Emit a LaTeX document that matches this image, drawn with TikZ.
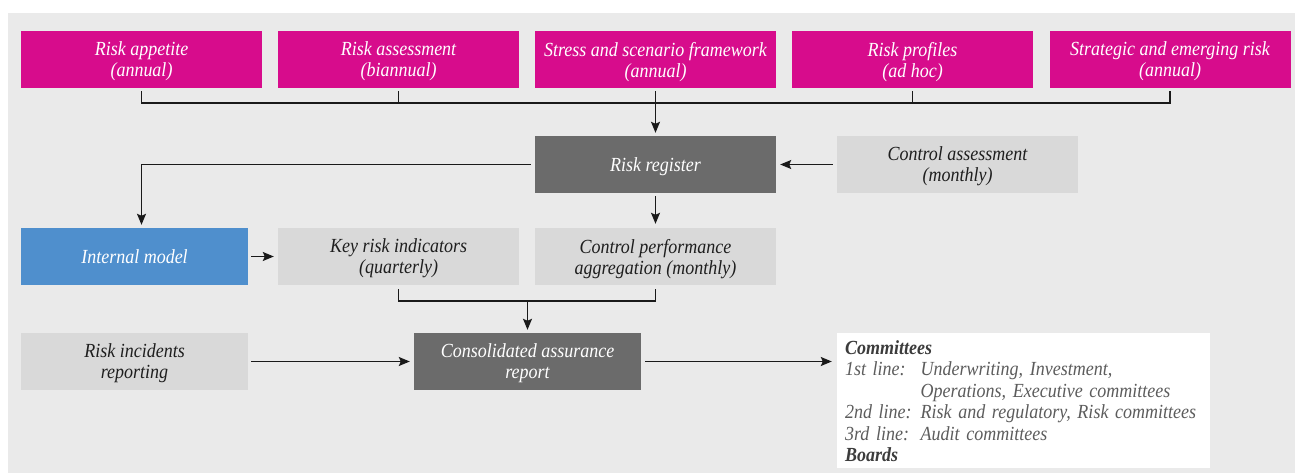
\documentclass[tikz,border=0pt]{standalone}
\usepackage{fontspec}
\setmainfont{Liberation Serif}[FakeStretch=0.9]
\usetikzlibrary{arrows.meta}
\definecolor{panel}{HTML}{EAEAEA}
\definecolor{riskmagenta}{HTML}{D70C8C}
\definecolor{hubgrey}{HTML}{6B6B6B}
\definecolor{inputgrey}{HTML}{D9D9D9}
\definecolor{modelblue}{HTML}{4F8FCD}
\definecolor{textdark}{HTML}{1E1E1E}
\definecolor{linedark}{HTML}{1A1A1A}
\definecolor{comtext}{HTML}{5C5C5C}
\definecolor{comhead}{HTML}{3C3C3C}

\begin{document}
\begin{tikzpicture}
  [x=1pt, y=-1pt,
   every node/.style={inner sep=0pt, text depth=0pt, font=\fontsize{20}{21}\selectfont\itshape, align=center},
   box/.style={rectangle, minimum width=241pt, minimum height=57pt},
   source/.style={box, fill=riskmagenta, text=white},
   hub/.style={box, fill=hubgrey, text=white},
   input/.style={box, fill=inputgrey, text=textdark},
   link/.style={draw=linedark, line width=1.4pt},
   flow/.style={link, -{Stealth[length=11pt,width=9pt,inset=2pt]}}]
  \fill[white] (0,0) rectangle (1295,473);
  \fill[panel] (8,13) rectangle (1295,473);
  \useasboundingbox (0,0) rectangle (1295,473);

  \node[source] (appetite)   at (141.5,59.5) {Risk appetite\\(annual)};
  \node[source] (assessment) at (398.5,59.5) {Risk assessment\\(biannual)};
  \node[source] (stress)     at (655.5,59.5) {Stress and scenario framework\\(annual)};
  \node[source] (profiles)   at (912.5,59.5) {Risk profiles\\(ad hoc)};
  \node[source] (emerging)   at (1170,59.5)  {Strategic and emerging risk\\(annual)};

  \node[hub] (register) at (655.5,164.5) {Risk register};
  \node[input] (control) at (957.5,164.5) {Control assessment\\(monthly)};

  \node[box, fill=modelblue, text=white, minimum width=227pt] (model) at (134.5,256.5) {Internal model};
  \node[input] (kri)  at (398.5,256.5) {Key risk indicators\\(quarterly)};
  \node[input] (perf) at (655.5,256.5) {Control performance\\aggregation (monthly)};

  \node[input, minimum width=227pt] (incidents) at (134.5,361.5) {Risk incidents\\reporting};
  \node[hub, minimum width=227pt] (report) at (527.5,361.5) {Consolidated assurance\\report};
  \node[fill=white, minimum width=373pt, minimum height=135pt, text width=357pt,
        align=left, text=comtext, font=\fontsize{20}{21.5}\selectfont\itshape] (committees) at (1023.5,400.5)
    {\begin{tabular}[b]{@{}l@{\hspace{9pt}}l@{}}
     \multicolumn{2}{@{}l@{}}{\bfseries\color{comhead}Committees}\\
     1st line: & Underwriting, Investment,\\
               & Operations, Executive committees\\
     2nd line: & Risk and regulatory, Risk committees\\
     3rd line: & Audit committees\\
     \multicolumn{2}{@{}l@{}}{\bfseries\color{comhead}Boards}
     \end{tabular}};

  \coordinate (topbus) at (655.5,103);
  \coordinate (lowbus) at (527.5,301);

  \draw[link, shorten <=3pt, shorten >=3pt] (appetite.south) -- (appetite.south |- topbus)
    -- (emerging.south |- topbus) -- (emerging.south);
  \draw[link, shorten <=3pt] (assessment.south) -- (assessment.south |- topbus);
  \draw[link, shorten <=3pt] (profiles.south) -- (profiles.south |- topbus);
  \draw[flow, shorten <=3pt, shorten >=3pt] (stress.south) -- (register.north);
  \draw[flow, shorten <=4pt, shorten >=4pt] (control) -- (register);
  \draw[flow, shorten <=4pt, shorten >=3pt] (register.west) -| (model.north -| appetite.south);
  \draw[flow, shorten <=3pt, shorten >=4pt] (register.south) -- (perf.north);
  \draw[flow, shorten <=3pt, shorten >=4pt] (model) -- (kri);
  \draw[link, shorten <=4pt, shorten >=4pt] (kri.south) -- (kri.south |- lowbus)
    -- (perf.south |- lowbus) -- (perf.south);
  \draw[flow, shorten >=3pt] (lowbus) -- (report.north);
  \draw[flow, shorten <=3pt, shorten >=4pt] (incidents) -- (report);
  \draw[flow, shorten <=4pt, shorten >=5pt] (report.east) -- (report.east -| committees.west);
\end{tikzpicture}
\end{document}
